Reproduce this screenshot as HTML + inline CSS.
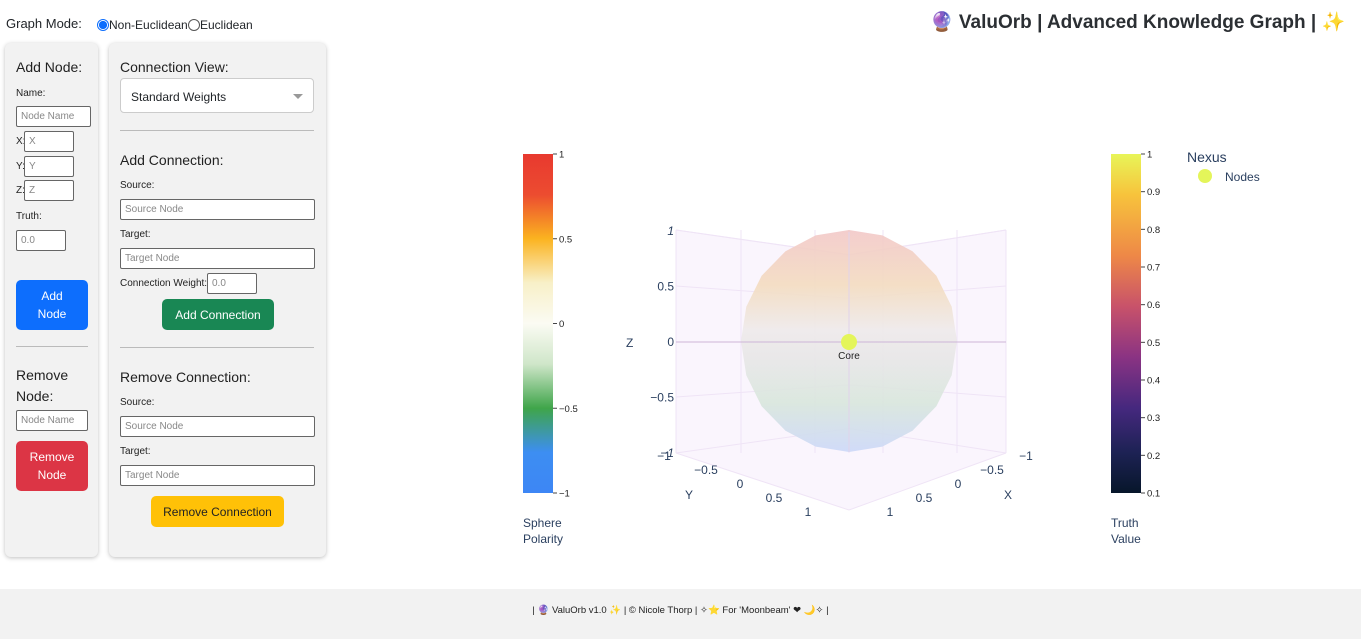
<!DOCTYPE html>
<html><head><meta charset="utf-8">
<style>
body{margin:0;width:1361px;height:639px;position:relative;font-family:"Liberation Sans","DejaVu Sans",sans-serif;background:#fff;overflow:hidden;color:#212529}
.abs{position:absolute}
.panel{position:absolute;background:#f2f2f2;border-radius:6px;box-shadow:0 1px 4px rgba(0,0,0,.25)}
.lbl{position:absolute;font-size:10px;color:#222}
.inp{position:absolute;background:#fff;border:1px solid #666;border-radius:2px;font-size:10px;color:#888;box-sizing:border-box;padding:0 4px;height:21px;line-height:19px}
.h{position:absolute;font-size:14px;color:#222}
.btn{position:absolute;border-radius:5px;font-size:12px;color:#fff;text-align:center;display:flex;align-items:center;justify-content:center;line-height:18px}
.hr{position:absolute;height:1px;background:#bbb}
.tk{font-size:9.5px;fill:#222}
.ax{font-size:12px;fill:#2a3f5f}
</style></head><body>
<div class="abs" style="left:6px;top:16px;font-size:13px;">Graph Mode:</div>
<div class="abs" style="left:97px;top:18px;font-size:12px;display:flex;align-items:center"><span style="width:12px;height:12px;border-radius:50%;border:1px solid #0d6efd;box-sizing:border-box;display:inline-block;background:radial-gradient(#0d6efd 55%,#fff 60%)"></span>Non-Euclidean</div>
<div class="abs" style="left:188px;top:18px;font-size:12px;display:flex;align-items:center"><span style="width:12px;height:12px;border-radius:50%;border:1px solid #555;box-sizing:border-box;display:inline-block"></span>Euclidean</div>
<div class="abs" style="left:930px;top:10px;font-size:19px;font-weight:bold;color:#2b2f33;white-space:nowrap">🔮 ValuOrb | Advanced Knowledge Graph | ✨</div>

<div class="panel" style="left:5px;top:43px;width:93px;height:514px">
 <div class="h" style="left:11px;top:16px">Add Node:</div>
 <div class="lbl" style="left:11px;top:45px">Name:</div>
 <div class="inp" style="left:11px;top:63px;width:75px">Node Name</div>
 <div class="lbl" style="left:11px;top:93px">X:</div>
 <div class="inp" style="left:19px;top:88px;width:50px">X</div>
 <div class="lbl" style="left:11px;top:118px">Y:</div>
 <div class="inp" style="left:19px;top:113px;width:50px">Y</div>
 <div class="lbl" style="left:11px;top:142px">Z:</div>
 <div class="inp" style="left:19px;top:137px;width:50px">Z</div>
 <div class="lbl" style="left:11px;top:168px">Truth:</div>
 <div class="inp" style="left:11px;top:187px;width:50px">0.0</div>
 <div class="btn" style="left:11px;top:237px;width:72px;height:50px;background:#0d6efd">Add<br>Node</div>
 <div class="hr" style="left:11px;top:303px;width:72px"></div>
 <div class="h" style="left:11px;top:322px;line-height:21px">Remove<br>Node:</div>
 <div class="inp" style="left:11px;top:367px;width:72px">Node Name</div>
 <div class="btn" style="left:11px;top:398px;width:72px;height:50px;background:#dc3545">Remove<br>Node</div>
</div>

<div class="panel" style="left:109px;top:43px;width:217px;height:514px">
 <div class="h" style="left:11px;top:16px">Connection View:</div>
 <div class="abs" style="left:11px;top:35px;width:194px;height:35px;background:#fff;border:1px solid #ccc;border-radius:4px;box-sizing:border-box;font-size:12px;padding:11px 10px">Standard Weights<span style="position:absolute;right:10px;top:15px;border:5px solid transparent;border-top:5px solid #999"></span></div>
 <div class="hr" style="left:11px;top:87px;width:194px"></div>
 <div class="h" style="left:11px;top:109px">Add Connection:</div>
 <div class="lbl" style="left:11px;top:137px">Source:</div>
 <div class="inp" style="left:11px;top:156px;width:195px">Source Node</div>
 <div class="lbl" style="left:11px;top:186px">Target:</div>
 <div class="inp" style="left:11px;top:205px;width:195px">Target Node</div>
 <div class="lbl" style="left:11px;top:235px">Connection Weight:</div>
 <div class="inp" style="left:98px;top:230px;width:50px">0.0</div>
 <div class="btn" style="left:53px;top:256px;width:112px;height:31px;background:#198754">Add Connection</div>
 <div class="hr" style="left:11px;top:304px;width:194px"></div>
 <div class="h" style="left:11px;top:326px">Remove Connection:</div>
 <div class="lbl" style="left:11px;top:354px">Source:</div>
 <div class="inp" style="left:11px;top:373px;width:195px">Source Node</div>
 <div class="lbl" style="left:11px;top:403px">Target:</div>
 <div class="inp" style="left:11px;top:422px;width:195px">Target Node</div>
 <div class="btn" style="left:42px;top:453px;width:133px;height:31px;background:#ffc107;color:#222">Remove Connection</div>
</div>

<svg class="abs" style="left:0;top:0" width="1361" height="590">
 <defs>
  <linearGradient id="pol" x1="0" y1="0" x2="0" y2="1">
   <stop offset="0" stop-color="#e8392f"/><stop offset="0.12" stop-color="#ec4c30"/><stop offset="0.25" stop-color="#fbb320"/><stop offset="0.38" stop-color="#f8f0c8"/><stop offset="0.5" stop-color="#fbfbf3"/><stop offset="0.62" stop-color="#cfe6c9"/><stop offset="0.75" stop-color="#3fa54a"/><stop offset="0.88" stop-color="#3d8ef2"/><stop offset="1" stop-color="#3d86f5"/>
  </linearGradient>
  <linearGradient id="tru" x1="0" y1="0" x2="0" y2="1">
   <stop offset="0" stop-color="#e8f558"/><stop offset="0.12" stop-color="#f7c33c"/><stop offset="0.3" stop-color="#ee8847"/><stop offset="0.45" stop-color="#c8526a"/><stop offset="0.6" stop-color="#8a3383"/><stop offset="0.75" stop-color="#45287e"/><stop offset="0.88" stop-color="#1d2254"/><stop offset="1" stop-color="#07162a"/>
  </linearGradient>
  <linearGradient id="sph" x1="0" y1="0" x2="0" y2="1">
   <stop offset="0" stop-color="#f2c8c8"/><stop offset="0.25" stop-color="#f3dcc0"/><stop offset="0.45" stop-color="#eeeaea"/><stop offset="0.6" stop-color="#e6e6e6"/><stop offset="0.78" stop-color="#d8e6dc"/><stop offset="1" stop-color="#ccd8f8"/>
  </linearGradient>
 </defs>
 <g>
  <rect x="523" y="154" width="30" height="339" fill="url(#pol)"/>
  <g id="polTicks"></g>
  <text x="523" y="527" font-size="12" fill="#2a3f5f">Sphere</text><text x="523" y="543" font-size="12" fill="#2a3f5f">Polarity</text>
 </g>
 <g>
  <rect x="1111" y="154" width="30" height="339" fill="url(#tru)"/>
  <g id="truTicks"></g>
  <text x="1111" y="527" font-size="12" fill="#2a3f5f">Truth</text><text x="1111" y="543" font-size="12" fill="#2a3f5f">Value</text>
 </g>
 <g>
  <text x="1187" y="162" font-size="14" fill="#2a3f5f">Nexus</text>
  <circle cx="1205" cy="176" r="7" fill="#e4f55a"/>
  <text x="1225" y="181" font-size="12" fill="#2a3f5f">Nodes</text>
 </g>
 <g id="scene"></g>
</svg>

<div class="abs" style="left:0;top:589px;width:1361px;height:50px;background:#f2f2f2;font-size:9.5px;text-align:center;line-height:44px;color:#222">| 🔮 ValuOrb v1.0 ✨ | © Nicole Thorp | ✧⭐ For 'Moonbeam' ❤ 🌙✧ |</div>

<script>
const polTickVals=[1,0.5,0,-0.5,-1];
const truTickVals=[1,0.9,0.8,0.7,0.6,0.5,0.4,0.3,0.2,0.1];
const zTicks=[1,0.5,0,-0.5,-1];
const yTicks=[-1,-0.5,0,0.5,1];
const xTicks=[-1,-0.5,0,0.5,1];
const nodeNames=['Core'];
const nodeX=[0];
const nodeY=[0];
const nodeZ=[0];
const NS='http://www.w3.org/2000/svg';
function mk(tag,attrs,parent,txt){const e=document.createElementNS(NS,tag);for(const k in attrs)e.setAttribute(k,attrs[k]);if(txt!==undefined)e.textContent=txt;parent.appendChild(e);return e;}
function fmt(v){return String(v).replace('-','\u2212');}
const polY=v=>154+(1-v)/2*339;
const truY=v=>154+(1-v)/0.9*339;
const pt=document.getElementById('polTicks');
polTickVals.forEach(v=>{const y=polY(v);
 const l=mk('line',{x1:553,x2:557,y1:y,y2:y,stroke:'#444'},pt);
 
 
 mk('text',{x:559,y:y+3.5,class:'tk'},pt,fmt(v));});
const tt=document.getElementById('truTicks');
truTickVals.forEach(v=>{const y=truY(v);
 const l=mk('line',{x1:1141,x2:1145,y1:y,y2:y,stroke:'#444'},tt);
 
 
 mk('text',{x:1147,y:y+3.5,class:'tk'},tt,String(v));});
const cx=849,cy=342;
function proj(x,y,z){return [cx + x*78 - y*78, cy - z*111 + (x+y)*28];}
const sc=document.getElementById('scene');
const g='#efe4f6';
function L(a,b,c){mk('line',{x1:a[0],y1:a[1],x2:b[0],y2:b[1],stroke:c||g,'stroke-width':1},sc);}
const lx=676,rx=1006,mx=849;
// faint wall background
const bg=mk('polygon',{points:`${lx},230 ${mx},255 ${rx},230 ${rx},453 ${mx},510 ${lx},453`,fill:'#faf5fd'},sc);


[230,286,342,397,453].forEach((y,i)=>{const d=(y-342)*-0.22;L([lx,y],[mx,y+d]);L([mx,y+d],[rx,y]);});
[lx,741,815,mx,883,957,rx].forEach(x=>L([x,230],[x,453]));
L([lx,453],[mx,510]);L([mx,510],[rx,453]);
L([lx,230],[mx,255]);L([mx,255],[rx,230]);
// sphere
const s=mk('polygon',{points:(()=>{let a=[];for(let i=0;i<20;i++){const t=i/20*2*Math.PI;a.push((849+108*Math.sin(t))+','+(341-111*Math.cos(t)));}return a.join(' ');})(),fill:'url(#sph)','fill-opacity':0.9},sc);


L([lx,342],[rx,342],'#cdb5d8');
L([mx,232],[mx,452],'#e0d3ea');
zTicks.forEach(v=>{const y=cy-v*111;mk('text',{x:674,y:y+4,class:'ax','text-anchor':'end','font-style':v==1||v==-1?'italic':'normal'},sc,fmt(v));});
mk('text',{x:626,y:347,class:'ax','font-size':13},sc,'Z');
yTicks.forEach((v,i)=>{mk('text',{x:672+i*34-(i==0?8:0),y:460+i*14,class:'ax','text-anchor':'middle'},sc,fmt(v));});
mk('text',{x:685,y:499,class:'ax'},sc,'Y');
xTicks.forEach((v,i)=>{mk('text',{x:1026-i*34,y:460+i*14,class:'ax','text-anchor':'middle'},sc,fmt(v));});
mk('text',{x:1004,y:499,class:'ax'},sc,'X');
nodeNames.forEach((n,i)=>{const p=proj(nodeX[i],nodeY[i],nodeZ[i]);
 const c=mk('circle',{cx:p[0],cy:p[1],r:8,fill:'#e4f55a'},sc);
 
 
 mk('text',{x:p[0],y:p[1]+17,'font-size':10,'text-anchor':'middle',fill:'#222'},sc,n);});
</script>
</body></html>
